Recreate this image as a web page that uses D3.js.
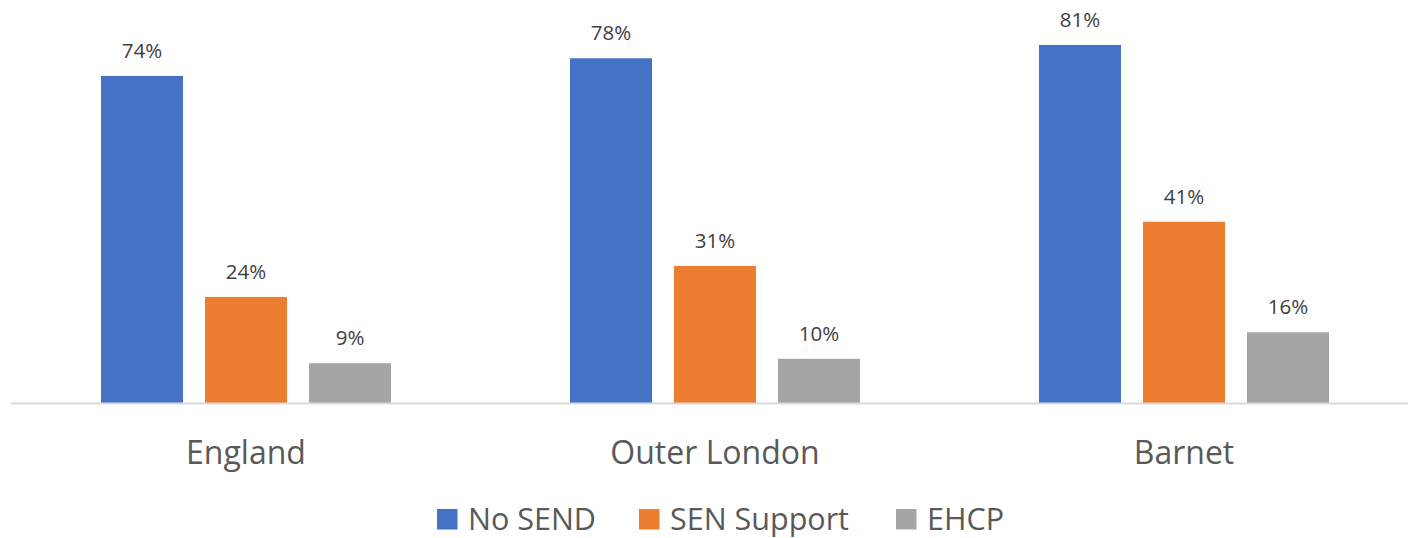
<!DOCTYPE html>
<html>
<head>
<meta charset="utf-8">
<title>SEND</title>
<script src="https://cdn.jsdelivr.net/npm/d3@7"></script>
<style>
body { margin: 0; background: #fff; font-family: 'Open Sans', sans-serif; }
</style>
</head>
<body>
<script>
var categories = ["England", "Outer London", "Barnet"];
var seriesNames = ["No SEND", "SEN Support", "EHCP"];
var noSend = [74, 78, 81];
var senSupport = [24, 31, 41];
var ehcp = [9, 10, 16];
var valueLabels = [["74%", "78%", "81%"], ["24%", "31%", "41%"], ["9%", "10%", "16%"]];

var colors = ["#4472C4", "#ED7D31", "#A5A5A5"];
var w = 1408, h = 538;
var baseY = 403;

var svg = d3.select("body").append("svg")
  .attr("width", w)
  .attr("height", h);

var allSeries = [noSend, senSupport, ehcp];

var x0 = d3.scaleBand()
  .domain(categories)
  .range([11.5, 1418.5]);

var x1 = d3.scaleBand()
  .domain(seriesNames)
  .range([89.5, 379.5])
  .paddingInner(22 / 104);

var y = d3.scaleLinear()
  .domain([0, 90])
  .range([baseY, baseY - 90 * 4.42]);

function rows(d, ci) {
  return seriesNames.map(function(s, si) {
    return { s: s, si: si, v: allSeries[si][ci], label: valueLabels[si][ci] };
  });
}

// bars
var groups = svg.append("g").selectAll("g")
  .data(categories)
  .enter()
  .append("g")
  .attr("transform", function(d) { return "translate(" + x0(d) + ",0)"; });

groups.selectAll("rect")
  .data(rows)
  .enter()
  .append("rect")
  .attr("x", function(d) { return x1(d.s); })
  .attr("width", x1.bandwidth())
  .attr("y", function(d) { return y(d.v); })
  .attr("height", function(d) { return y(0) - y(d.v); })
  .attr("fill", function(d) { return colors[d.si]; });

groups.selectAll("text")
  .data(rows)
  .enter()
  .append("text")
  .attr("x", function(d) { return x1(d.s) + x1.bandwidth() / 2; })
  .attr("y", function(d) { return y(d.v) - 18; })
  .attr("text-anchor", "middle")
  .attr("font-size", 20.5)
  .attr("fill", "#404040")
  .text(function(d) { return d.label; });

// axis line
svg.append("line")
  .attr("x1", 11).attr("x2", 1418.5)
  .attr("y1", baseY + 0.5).attr("y2", baseY + 0.5)
  .attr("stroke", "#d9d9d9")
  .attr("stroke-width", 2);

// category labels
svg.append("g").selectAll("text")
  .data(categories)
  .enter()
  .append("text")
  .attr("x", function(d) { return x0(d) + x0.bandwidth() / 2; })
  .attr("y", 464)
  .attr("text-anchor", "middle")
  .attr("font-size", 32)
  .attr("fill", "#595959")
  .text(function(d) { return d; });

// legend
var legendX = [437, 639, 896];
var legend = svg.append("g").selectAll("g")
  .data(seriesNames)
  .enter()
  .append("g")
  .attr("transform", function(d, i) { return "translate(" + legendX[i] + ",509)"; });

legend.append("rect")
  .attr("width", 20.5).attr("height", 20.5)
  .attr("fill", function(d, i) { return colors[i]; });

legend.append("text")
  .attr("x", 31)
  .attr("y", 20.5)
  .attr("font-size", 30.5)
  .attr("fill", "#595959")
  .text(function(d) { return d; });
</script>
</body>
</html>
